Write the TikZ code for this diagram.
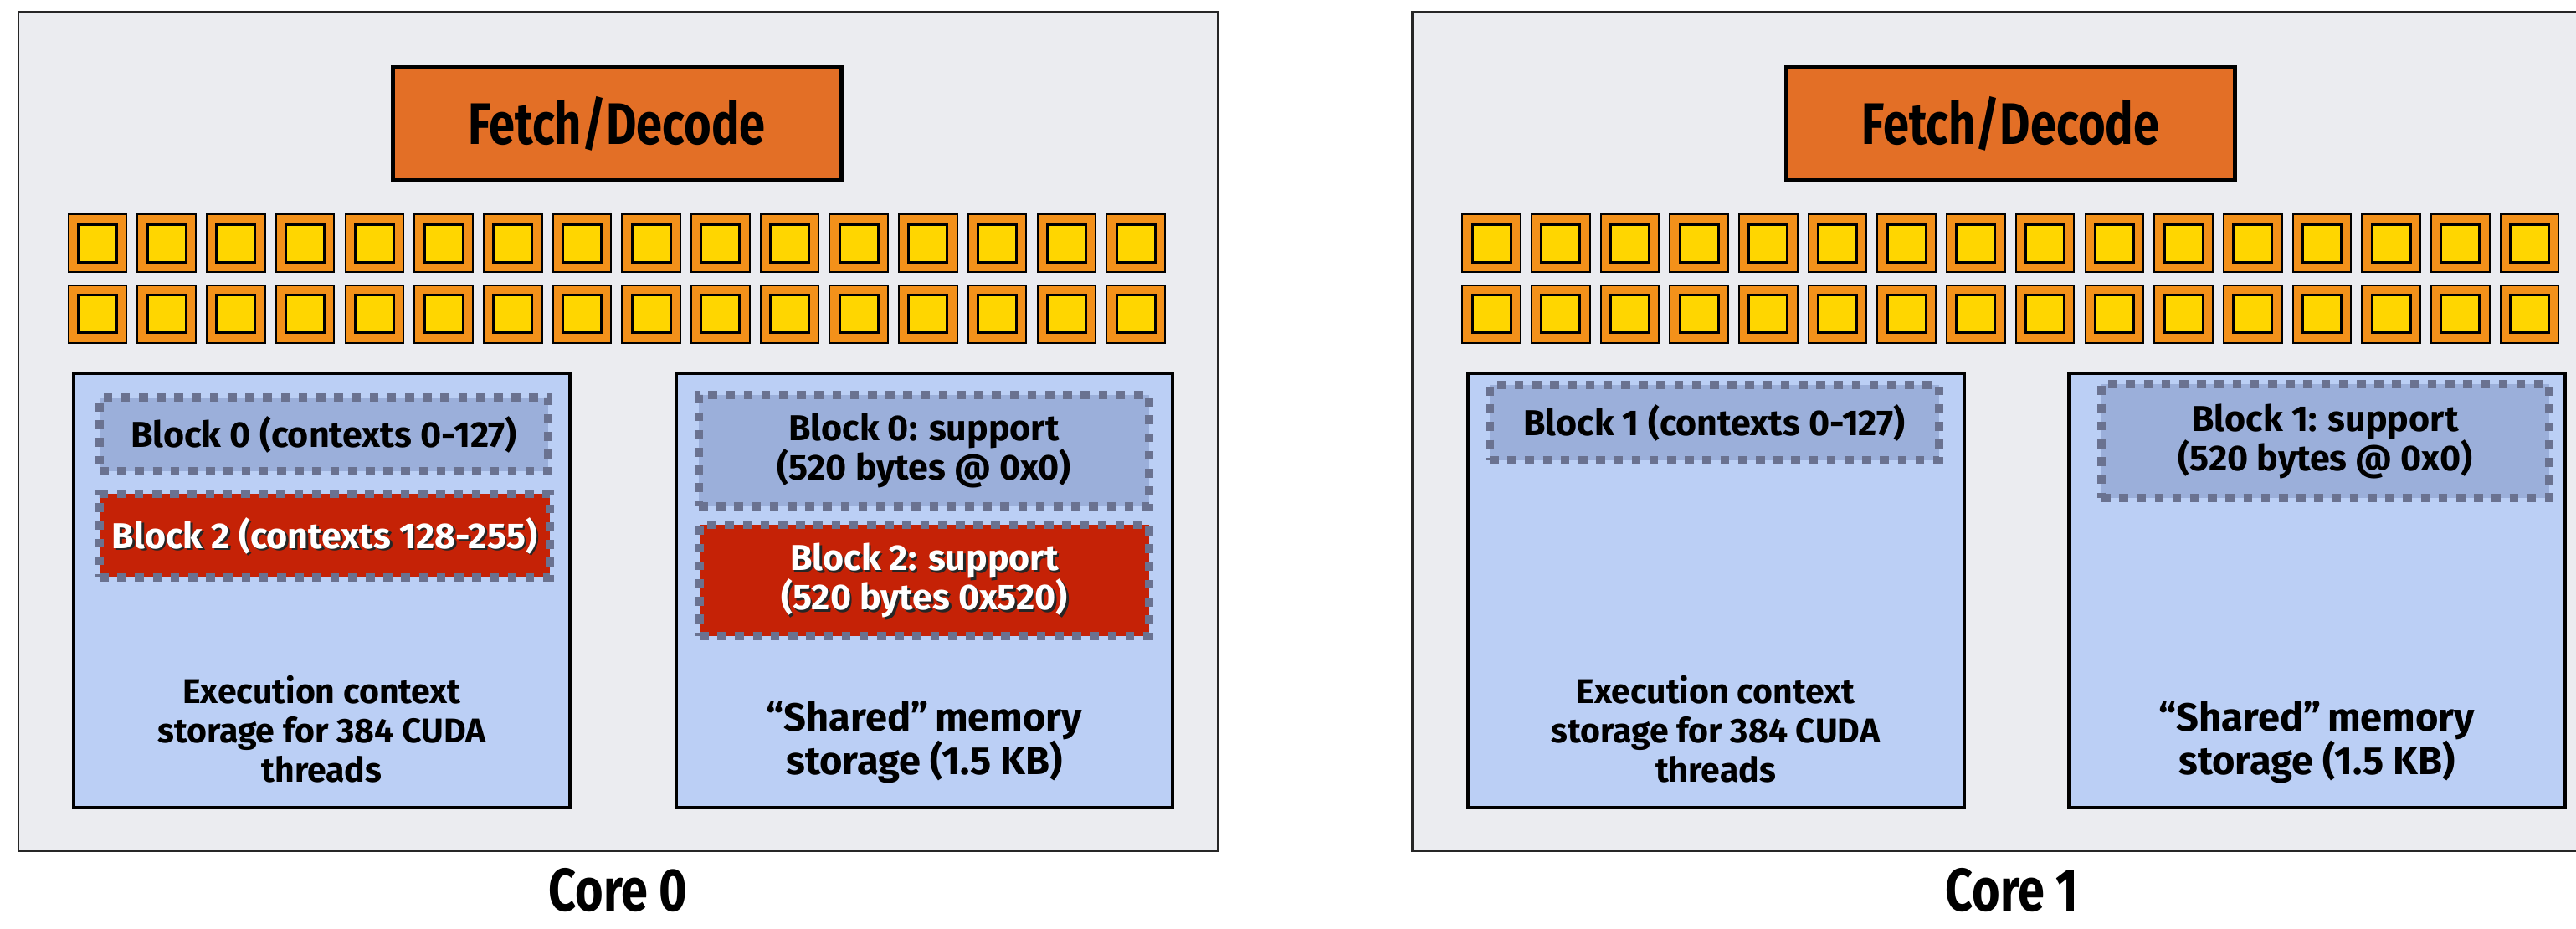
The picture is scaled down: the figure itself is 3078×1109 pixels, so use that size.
\documentclass[tikz,border=0pt]{standalone}
\usepackage{fontspec}
\newfontfamily\slidefont{Fira Sans}
\newfontfamily\narrowfont{Fira Sans}[FakeStretch=0.8]
\usetikzlibrary{positioning}
\definecolor{corebg}{RGB}{235,236,240}
\definecolor{fetchorange}{RGB}{227,111,38}
\definecolor{aluorange}{RGB}{243,145,26}
\definecolor{aluyellow}{RGB}{255,214,0}
\definecolor{storeblue}{RGB}{187,207,245}
\definecolor{blockblue}{RGB}{155,175,218}
\definecolor{blockred}{RGB}{197,34,6}
\definecolor{dashgray}{RGB}{106,114,144}
\newdimen\px \px=0.5pt

\begin{document}
\begin{tikzpicture}[x=0.5pt, y=-0.5pt, font=\slidefont\bfseries,
  core/.style={draw=black!85, line width=1.2pt, fill=corebg, inner sep=0pt,
    minimum width=1433\px, minimum height=1003\px},
  fetch/.style={draw=black, line width=2.5pt, fill=fetchorange, inner sep=0pt,
    minimum width=536\px, minimum height=135\px,
    font=\narrowfont\bfseries\fontsize{35}{40}\selectfont},
  alu/.style={draw=black, line width=1pt, fill=aluorange, inner sep=0pt,
    minimum width=69.6\px, minimum height=69\px},
  aluin/.style={draw=black, line width=1.5pt, fill=aluyellow, inner sep=0pt,
    minimum width=46\px, minimum height=45\px},
  store/.style={draw=black, line width=2pt, fill=storeblue, inner sep=0pt,
    minimum width=593\px, minimum height=519\px},
  storetxt/.style={align=center, font=\slidefont\bfseries\fontsize{20.5}{23.5}\selectfont},
  smemtxt/.style={align=center, font=\slidefont\bfseries\fontsize{23.5}{26}\selectfont},
  ctxblock/.style={draw=dashgray, line width=5pt, dash pattern=on 5.3pt off 5.3pt,
    inner sep=0pt, align=center, font=\slidefont\bfseries\fontsize{21.5}{23.5}\selectfont},
  blueblock/.style={ctxblock, fill=blockblue},
  redblock/.style={ctxblock, fill=blockred},
  redtxt/.style={align=center, text=white, font=\slidefont\bfseries\fontsize{21.5}{23.5}\selectfont},
  redshadow/.style={redtxt, text=black!85},
  corelbl/.style={anchor=base, inner sep=0pt, text depth=0pt,
    font=\narrowfont\bfseries\fontsize{36}{40}\selectfont}
]
\clip (0,0) rectangle (3078,1109);

% =====================================================================
% Core 0 : blocks 0 and 2 resident
% =====================================================================
\node[core] (core0) at (738.5, 515.5) {};
\node[fetch] (fd0) at (737, 147.5) {Fetch/Decode};

% two rows of 16 ALUs
\foreach \i in {0,...,15} {
  \node[alu] (c0a\i) at ({116.5+82.7*\i}, 290.5) {};
  \node[aluin] (c0a\i y) at (c0a\i) {};
  \node[alu] (c0b\i) at ({116.5+82.7*\i}, 375) {};
  \node[aluin] (c0b\i y) at (c0b\i) {};
}

% execution contexts (left) and shared memory (right)
\node[store] (exec0) at (384.5, 705.5) {};
\node[store] (smem0) at (1104.5, 705.5) {};
\node[storetxt] (exec0lbl) at (384.5, 871)
  {Execution context\\storage for 384 CUDA\\threads};
\node[smemtxt] (smem0lbl) at (1104.5, 887)
  {“Shared”\,memory\\storage (1.5 KB)};

% block 0 (blue) and block 2 (red)
\node[blueblock, minimum width=536\px, minimum height=88\px] (b0ctx) at (387, 519)
  {Block 0 (contexts 0-127)};
\node[redblock, minimum width=538\px, minimum height=100\px] (b2ctx) at (388, 640) {};
\node[redshadow] (b2ctxsh) at ([xshift=1.3pt, yshift=-1.3pt] b2ctx.center)
  {Block 2 (contexts 128-255)};
\node[redtxt] (b2ctxlbl) at (b2ctx.center) {Block 2 (contexts 128-255)};

\node[blueblock, minimum width=538\px, minimum height=133\px] (b0sup) at (1104, 538.5)
  {Block 0: support\\(520 bytes @ 0x0)};
\node[redblock, minimum width=537\px, minimum height=133\px] (b2sup) at (1104.5, 693.5) {};
\node[redshadow] (b2supsh) at ([xshift=1.3pt, yshift=-1.3pt] b2sup.center)
  {Block 2: support\\(520 bytes 0x520)};
\node[redtxt] (b2suplbl) at (b2sup.center) {Block 2: support\\(520 bytes 0x520)};

\node[corelbl] (core0lbl) at (738.5, 1088) {Core 0};

% =====================================================================
% Core 1 : block 1 resident (same layout, shifted right)
% =====================================================================
\begin{scope}[xshift=1665.5\px]
\node[core] (core1) at (738.5, 515.5) {};
\node[fetch] (fd1) at (737, 147.5) {Fetch/Decode};

\foreach \i in {0,...,15} {
  \node[alu] (c1a\i) at ({116.5+82.7*\i}, 290.5) {};
  \node[aluin] (c1a\i y) at (c1a\i) {};
  \node[alu] (c1b\i) at ({116.5+82.7*\i}, 375) {};
  \node[aluin] (c1b\i y) at (c1b\i) {};
}

\node[store] (exec1) at (384.5, 705.5) {};
\node[store] (smem1) at (1103, 705.5) {};
\node[storetxt] (exec1lbl) at (384.5, 871)
  {Execution context\\storage for 384 CUDA\\threads};
\node[smemtxt] (smem1lbl) at (1103, 887)
  {“Shared”\,memory\\storage (1.5 KB)};

\node[blueblock, minimum width=537\px, minimum height=90\px] (b1ctx) at (383, 505)
  {Block 1 (contexts 0-127)};
\node[blueblock, minimum width=535\px, minimum height=136\px] (b1sup) at (1113, 527)
  {Block 1: support\\(520 bytes @ 0x0)};

\node[corelbl] (core1lbl) at (738.5, 1088) {Core 1};
\end{scope}

\end{tikzpicture}
\end{document}
